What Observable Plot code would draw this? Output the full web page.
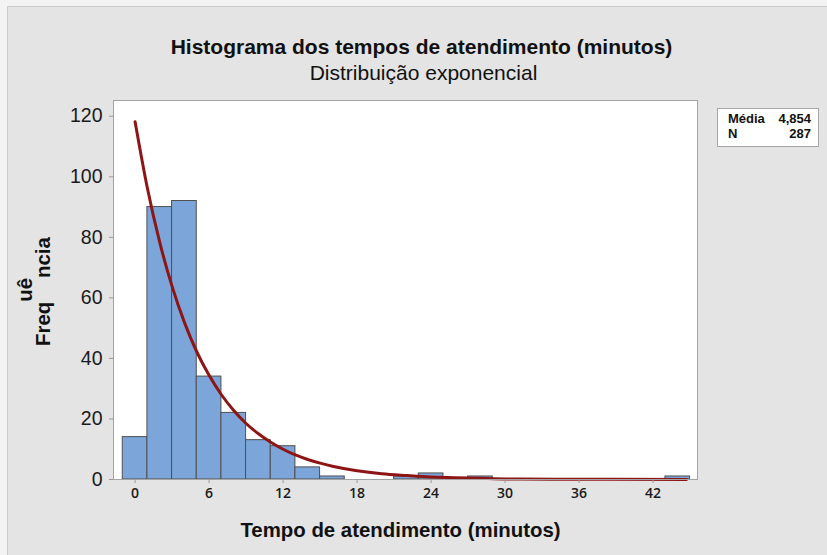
<!DOCTYPE html>
<html>
<head>
<meta charset="utf-8">
<script src="https://cdn.jsdelivr.net/npm/d3@7"></script>
<script src="https://cdn.jsdelivr.net/npm/@observablehq/plot@0.6"></script>
<style>
  html, body { margin: 0; padding: 0; background: #f3f3f3; }
  #wrap { position: relative; width: 827px; height: 555px; overflow: hidden; }
  #panel { position: absolute; left: 7px; top: 6px; right: 0; bottom: 0; background: #e4e4e4;
           border-left: 1px solid #cbcbcb; border-top: 1px solid #cbcbcb; }
  #chart { position: absolute; left: 0; top: 0; }
  #overlay { position: absolute; left: 0; top: 0; pointer-events: none; }
  #legend { position: absolute; left: 717px; top: 108px; width: 100px; height: 37px;
            background: white; border: 1px solid #a6a6a6; box-sizing: content-box;
            font-family: "Liberation Sans", Arial, sans-serif; font-weight: bold; font-size: 13px; color: #111; }
  #legend .row { position: absolute; left: 10px; width: 83px; height: 15px; line-height: 15px;
                 white-space: nowrap; }
  #legend .lab { position: absolute; left: 0; top: 0; }
  #legend .val { position: absolute; right: 0; top: 0; }
</style>
</head>
<body>
<div id="wrap">
  <div id="panel"></div>
  <div id="chart"></div>
  <svg id="overlay" width="827" height="555"></svg>
  <div id="legend"></div>
</div>
<script>
// ---- data ----
const title = "Histograma dos tempos de atendimento (minutos)";
const subtitle = "Distribuição exponencial";
const xTitle = "Tempo de atendimento (minutos)";
const yTitleParts = ["Freq", "uê", "ncia"];

const binLower = [-1, 1, 3, 5, 7, 9, 11, 13, 15, 21, 23, 27, 43];
const binUpper = [ 1, 3, 5, 7, 9, 11, 13, 15, 17, 23, 25, 29, 45];
const counts   = [14, 90, 92, 34, 22, 13, 11, 4, 1, 1, 2, 1, 1];

// fitted exponential curve
const curveX = [0, 1, 2, 3, 4, 5, 6, 7, 8, 9, 10, 11, 12, 13, 14, 15, 16, 18, 20, 22, 24, 26, 28, 30, 34, 38, 44.7];
const curveY = [118.2, 96.2, 78.3, 63.8, 51.9, 42.2, 34.4, 28.0, 22.8, 18.5, 15.1, 12.3, 10.0, 8.1, 6.6, 5.4, 4.4, 2.9, 1.9, 1.3, 0.8, 0.6, 0.4, 0.2, 0.1, 0.05, 0.01];

const xTicks = [0, 6, 12, 18, 24, 30, 36, 42];
const yTicks = [0, 20, 40, 60, 80, 100, 120];

const legendLabels = ["Média", "N"];
const legendValues = ["4,854", "287"];

// ---- build ----
const bars = binLower.map((x1, i) => ({x1, x2: binUpper[i], y: counts[i]}));
const curve = curveX.map((x, i) => ({x, y: curveY[i]}));

const chart = Plot.plot({
  width: 827,
  height: 555,
  marginLeft: 113,
  marginRight: 130,
  marginTop: 100,
  marginBottom: 76,
  style: {background: "transparent", fontFamily: "Liberation Sans, Arial, sans-serif"},
  x: {domain: [-1.75, 45.6]},
  y: {domain: [0, 125.2]},
  marks: [
    Plot.frame({fill: "white", stroke: null}),
    Plot.rectY(bars, {x1: "x1", x2: "x2", y: "y", fill: "#7ca6d9", stroke: "#4f4f4f", strokeWidth: 1}),
    Plot.line(curve, {x: "x", y: "y", stroke: "#8e1515", strokeWidth: 3, curve: "monotone-x"}),
    Plot.frame({stroke: "#a3a3a3", fill: null}),
    Plot.axisY({ticks: yTicks, tickSize: 4, tickPadding: 7, label: null, stroke: "#9a9a9a", fill: "#1a1a1a",
                fontSize: 19.5, fontFamily: "Liberation Sans, Arial, sans-serif"}),
    Plot.axisX({ticks: xTicks, tickSize: 4, tickPadding: 5, label: null, stroke: "#9a9a9a", fill: "#1a1a1a",
                fontSize: 14, fontWeight: 600, fontFamily: "Open Sans, sans-serif"})
  ]
});
document.getElementById("chart").appendChild(chart);

// ---- titles, axis titles ----
const ov = d3.select("#overlay");
ov.append("text").attr("x", 421.5).attr("y", 54).attr("text-anchor", "middle")
  .attr("font-family", "Liberation Sans, Arial, sans-serif").attr("font-weight", "bold")
  .attr("font-size", 21).attr("fill", "#111").text(title);
ov.append("text").attr("x", 423.5).attr("y", 80).attr("text-anchor", "middle")
  .attr("font-family", "Liberation Sans, Arial, sans-serif")
  .attr("font-size", 21).attr("fill", "#111").text(subtitle);
ov.append("text").attr("x", 400.5).attr("y", 536.5).attr("text-anchor", "middle")
  .attr("font-family", "Liberation Sans, Arial, sans-serif").attr("font-weight", "bold")
  .attr("font-size", 20.4).attr("fill", "#111").text(xTitle);

const yt = ov.append("text").attr("transform", "translate(49.6,346) rotate(-90)")
  .attr("font-family", "Liberation Sans, Arial, sans-serif").attr("font-weight", "bold")
  .attr("font-size", 20.4).attr("fill", "#111");
yt.append("tspan").text(yTitleParts[0]);
yt.append("tspan").attr("dy", -18).text(yTitleParts[1]);
yt.append("tspan").attr("dy", 18).text(yTitleParts[2]);

// ---- legend (HTML) ----
const lg = d3.select("#legend");
legendLabels.forEach((lab, i) => {
  const row = lg.append("div").attr("class", "row").style("top", (2.3 + i * 15) + "px");
  row.append("span").attr("class", "lab").text(lab);
  row.append("span").attr("class", "val").text(legendValues[i]);
});
</script>
</body>
</html>
